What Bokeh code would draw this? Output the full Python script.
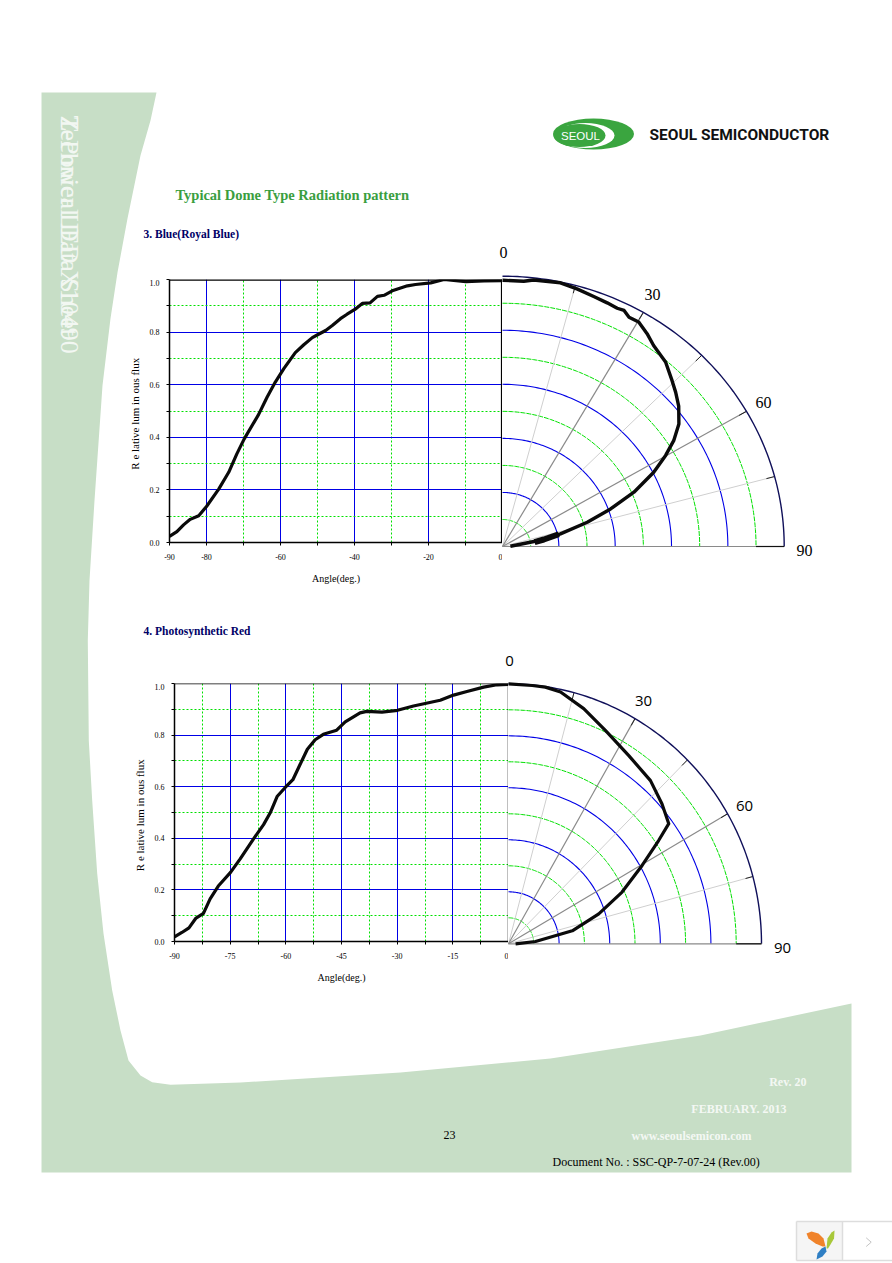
from math import radians, sin, cos
from bokeh.plotting import figure
from bokeh.embed import file_html
from bokeh.resources import INLINE
from bokeh.core.properties import value
from bokeh.models import Range1d, FixedTicker, Span, ColumnDataSource

SERIF = "Liberation Serif"
BLUE = "#0000e6"
GREEN = "#00e000"

# ---------- data ----------
blue_angle = [-90, -88.0, -86.2, -84.4, -82.1, -80, -76.7, -74, -71.8, -69.8, -65.9, -63.6, -61.4, -59.1,
              -56, -53.7, -51.4, -50.1, -47.8, -46, -43.8, -42, -39.9, -37.9, -35.8, -33.8, -32, -29.8,
              -25.7, -23.5, -19.4, -15.8, -9.9, -5, 0]
blue_flux = [.023, .041, .067, .088, .102, .137, .203, .267, .337, .394, .487, .553, .610, .661,
             .722, .752, .779, .789, .806, .825, .851, .868, .886, .909, .911, .936, .940, .957,
             .976, .981, .987, 1.0, .992, .995, .996]
blue_polar_theta = [0, 4.4, 6.4, 11.9, 15.5, 19.3, 22.4, 24.8, 26.3, 27.9, 30.2, 33.1, 35.8, 40.3, 44.4,
                    47.1, 50.3, 54.1, 57.2, 59.8, 62.9, 66.7, 70.1, 73.4, 77.2, 80, 88]
blue_polar_r = [.985, .984, .992, .997, .989, .98, .975, .971, .974, .96, .961, .94, .917, .895, .86,
                .839, .813, .773, .723, .67, .603, .508, .408, .314, .211, .149, .028]
blue_thick_theta = [77.2, 80, 82]
blue_thick_r = [.205, .149, .115]

red_angle = [-90, -88, -86.1, -84.2, -82.2, -80.4, -78.2, -74.9, -72.3, -68.7, -66, -64.2, -62.3, -60.1,
             -58.1, -56.2, -54.2, -52.1, -49.9, -46.3, -44, -40, -38.2, -34.1, -29.9, -25.6, -18.4,
             -14.8, -11.2, -6.7, -3.1, 0]
red_flux = [.018, .035, .053, .091, .109, .165, .215, .268, .320, .398, .453, .499, .563, .598,
            .627, .685, .745, .782, .803, .819, .851, .886, .892, .889, .896, .913, .935,
            .955, .969, .986, .995, .997]
red_polar_theta = [0, 5.4, 8.4, 12, 18.2, 25, 33.3, 41.8, 48.4, 53.9, 56.2, 60.3, 66.1, 72.1, 78.8, 85.2, 90]
red_polar_r = [1, .998, .998, .99, .952, .906, .866, .842, .811, .784, .714, .608, .491, .375, .257, .107, .028]

y_major = [0, .2, .4, .6, .8, 1.0]
y_minor = [.1, .3, .5, .7, .9]
blue_x_major = [-80, -60, -40, -20]
blue_x_minor = [-70, -50, -30, -10]
blue_x_labels = ["-90", "-80", "-60", "-40", "-20", "0"]
red_x_major = [-75, -60, -45, -30, -15]
red_x_minor = [-82.5, -67.5, -52.5, -37.5, -22.5, -7.5]
ring_major = [.2, .4, .6, .8]
ring_minor = [.1, .3, .5, .7, .9]
spoke_major = [30, 60]
spoke_minor = [15, 45, 75]
arc_angles = list(range(0, 91))


def placed(p, left, top):
    p.styles = {"position": "absolute", "left": f"{left}px", "top": f"{top}px"}
    return p


# ---------- page background in page pixels ----------
bg = figure(width=892, height=1263, x_range=Range1d(0, 892), y_range=Range1d(1263, 0),
            output_backend="svg", toolbar_location=None, min_border=0, outline_line_color=None)
bg.axis.visible = False
bg.grid.visible = False
bg.background_fill_color = "white"
bg.border_fill_color = "white"

band_x = [41, 156, 150, 140, 127, 117, 110, 102, 94, 89, 87.3, 88.3, 91.7, 96.7, 103, 111.7, 120, 128, 140,
          151.7, 170, 240, 400, 550, 700, 851, 851, 41]
band_y = [92, 92, 120, 155, 218, 272, 318, 385, 500, 580, 640, 740, 800, 873, 933, 990, 1030, 1060, 1075,
          1081.7, 1084.3, 1082, 1072, 1058, 1035, 1003, 1172, 1172]
bg.patch(band_x, band_y, color="#c7dec6", line_color=None)


def page_text(x, y, s, size, color="black", font=SERIF, style="normal", align="left", angle=0):
    bg.text([x], [y], text=[s], text_font=value(font), text_font_size=f"{size}px", text_color=color,
            text_font_style=style, text_align=align, text_baseline="middle", angle=angle,
            angle_units="deg")


# rotated, overlapping sidebar titles
page_text(69, 115, "Technical Data Sheet", 26, "#f2f7f2", angle=-90)
page_text(69, 115, "Z-Power LED X10490", 26, "#f2f7f2", angle=-90)

# logo
bg.ellipse([593], [133.5], width=81, height=31, color="#3aa53f", line_color=None)
bg.ellipse([585], [135], width=58, height=25, color="white", line_color=None)
bg.ellipse([579], [135], width=52, height=23, color="#3aa53f", line_color=None)
page_text(580, 135.5, "SEOUL", 11.5, "white", "Liberation Sans", align="center")
page_text(649, 134, "SEOUL SEMICONDUCTOR", 15.5, "#111111", "Roboto", "bold")

page_text(175, 194, "Typical Dome Type Radiation pattern", 14.5, "#3a9e3f", style="bold")
page_text(143, 233.5, "3. Blue(Royal Blue)", 11.5, "#000066", style="bold")
page_text(143, 630, "4. Photosynthetic Red", 11.5, "#000066", style="bold")

# polar labels
page_text(503, 252, "0", 16, align="center")
page_text(652, 294, "30", 16, align="center")
page_text(763, 402, "60", 16, align="center")
page_text(804, 550, "90", 16, align="center")
page_text(509, 660, "0", 15, font="Open Sans", align="center")
page_text(643, 700.5, "30", 15, font="Open Sans", align="center")
page_text(744, 805, "60", 15, font="Open Sans", align="center")
page_text(782, 947, "90", 15, font="Open Sans", align="center")

# footer
page_text(806, 1081, "Rev. 20", 12, "#f4f8f4", style="bold", align="right")
page_text(786, 1108, "FEBRUARY. 2013", 12, "#f4f8f4", style="bold", align="right")
page_text(443, 1134, "23", 12)
page_text(751, 1135.5, "www.seoulsemicon.com", 12, "#f4f8f4", style="bold", align="right")
page_text(552, 1161, "Document No. : SSC-QP-7-07-24 (Rev.00)", 12)

# corner widget
bg.rect([819], [1240.5], width=46, height=39, color="#f5f5f5", line_color=None)
bg.multi_line([[796, 892], [796, 892], [796, 796], [842, 842]],
              [[1221, 1221], [1260, 1260], [1221, 1260], [1221, 1260]],
              color="#dddddd", line_width=1.5)
bg.patch([806, 811, 818, 823, 825, 822, 815, 808], [1233, 1231, 1233, 1238, 1246, 1246, 1243, 1238],
         color="#f0832a", line_color=None)
bg.patch([826, 827, 831, 834, 833.5, 830, 827.5], [1248, 1238, 1232, 1230, 1238, 1244, 1248],
         color="#a8c83a", line_color=None)
bg.patch([816, 817, 821, 825, 826, 822, 818], [1259, 1253, 1248, 1246, 1251, 1256, 1258],
         color="#2f7fc4", line_color=None)
bg.line([865.7, 870.7, 865.7], [1237.3, 1241.7, 1246], color="#c4c4c4", line_width=1)


# ---------- cartesian panels ----------
def cartesian(frame_left, frame_top, frame_right, frame_bottom, x_major, x_minor, x_labels, ang, flux, top_w, right_w):
    border_l, border_b = 45, 48
    p = figure(frame_width=frame_right - frame_left, frame_height=frame_bottom - frame_top,
               x_range=Range1d(-90, 0), y_range=Range1d(0, 1),
               output_backend="svg", toolbar_location=None, min_border_left=border_l, min_border_bottom=border_b,
               min_border_top=0, min_border_right=0, outline_line_color=None)
    p.background_fill_color = None
    p.border_fill_color = None
    p.xaxis.ticker = FixedTicker(ticks=[-90] + x_major + [0], minor_ticks=x_minor)
    p.yaxis.ticker = FixedTicker(ticks=y_major, minor_ticks=y_minor)
    p.xaxis.major_label_overrides = dict(zip([-90] + x_major + [0], x_labels))
    p.yaxis.major_label_overrides = {t: f"{t:.1f}" for t in y_major}
    for ax in (p.xaxis[0], p.yaxis[0]):
        ax.axis_line_color = "black"
        ax.axis_line_width = 1.5
        ax.major_tick_line_color = "black"
        ax.minor_tick_line_color = "black"
        ax.major_tick_in = 0
        ax.minor_tick_in = 0
        ax.major_tick_out = 3
        ax.minor_tick_out = 3
        ax.major_label_text_font = SERIF
        ax.major_label_text_font_size = "8px"
        ax.major_label_text_color = "black"
        ax.axis_label_text_font = SERIF
        ax.axis_label_text_font_style = "normal"
        ax.axis_label_text_color = "black"
    p.xaxis.major_label_standoff = 8
    p.yaxis.major_label_standoff = 7
    p.xaxis.axis_label = "Angle(deg.)"
    p.xaxis.axis_label_text_font_size = "10px"
    p.xaxis.axis_label_standoff = 10
    p.yaxis.axis_label = "R e lative  lum in ous  flux"
    p.yaxis.axis_label_text_font_size = "11px"
    p.yaxis.axis_label_standoff = 6
    p.yaxis.major_label_orientation = "horizontal"

    p.xgrid.ticker = FixedTicker(ticks=x_major, minor_ticks=x_minor)
    p.ygrid.ticker = FixedTicker(ticks=y_major[1:-1], minor_ticks=y_minor)
    for g in (p.xgrid[0], p.ygrid[0]):
        g.grid_line_color = BLUE
        g.grid_line_width = 1
        g.minor_grid_line_color = GREEN
        g.minor_grid_line_width = 1
        g.minor_grid_line_dash = "2 2"
    p.add_layout(Span(location=1, dimension="width", line_color="black", line_width=top_w))
    p.add_layout(Span(location=0, dimension="height", line_color="black", line_width=right_w))
    p.line(ang, flux, color="#0a0a0a", line_width=3.2, line_join="round")
    return placed(p, frame_left - border_l, frame_top)


# ---------- polar panels (elliptical in the source) ----------
def polar(cx, cy, rx, ry, theta, r, lw):
    pad = 6
    left, right = round(cx) - pad, round(cx + rx) + pad
    top, bottom = round(cy - ry) - pad, round(cy) + pad
    p = figure(width=right - left, height=bottom - top,
               x_range=Range1d((left - cx) / rx, (right - cx) / rx),
               y_range=Range1d((cy - bottom) / ry, (cy - top) / ry),
               output_backend="svg", toolbar_location=None, min_border=0, outline_line_color=None)
    p.axis.visible = False
    p.grid.visible = False
    p.background_fill_color = None
    p.border_fill_color = None

    def arc(radius):
        return ([radius * sin(radians(a)) for a in arc_angles], [radius * cos(radians(a)) for a in arc_angles])

    for rr in ring_minor:
        xs, ys = arc(rr)
        p.line(xs, ys, color=GREEN, line_width=1, line_dash="5 1")
    for rr in ring_major:
        xs, ys = arc(rr)
        p.line(xs, ys, color=BLUE, line_width=1.1)
    for a in spoke_minor:
        p.line([0, sin(radians(a))], [0, cos(radians(a))], color="#cfcfcf", line_width=1)
        p.line([.97 * sin(radians(a)), sin(radians(a))], [.97 * cos(radians(a)), cos(radians(a))], color="#222222", line_width=1)
    for a in spoke_major:
        p.line([0, sin(radians(a))], [0, cos(radians(a))], color="#8a8a8a", line_width=1.2)
        p.line([.97 * sin(radians(a)), sin(radians(a))], [.97 * cos(radians(a)), cos(radians(a))], color="#222222", line_width=1)
    xs, ys = arc(1)
    p.line(xs, ys, color="#10105a", line_width=1.4)
    p.line([0, 1], [0, 0], color="#8a8a8a", line_width=1.2)
    p.line([.9, 1], [0, 0], color="#111111", line_width=1.2)
    p.line([r_ * sin(radians(t)) for t, r_ in zip(theta, r)],
           [r_ * cos(radians(t)) for t, r_ in zip(theta, r)],
           color="#0a0a0a", line_width=lw, line_join="round")
    return placed(p, left, top), p


blue_left = cartesian(169, 279, 502, 542, blue_x_major, blue_x_minor, blue_x_labels, blue_angle, blue_flux, 2.5, 3.2)
red_left = cartesian(174, 683, 508, 941, red_x_major, red_x_minor,
                     ["-90", "-75", "-60", "-45", "-30", "-15", "0"], red_angle, red_flux, 1.5, 1.5)
blue_polar, bp = polar(502, 546, 281.7, 270.3, blue_polar_theta, blue_polar_r, 3.4)
bp.line([r_ * sin(radians(t)) for t, r_ in zip(blue_thick_theta, blue_thick_r)],
        [r_ * cos(radians(t)) for t, r_ in zip(blue_thick_theta, blue_thick_r)], color="#0a0a0a", line_width=6)
red_polar, _ = polar(508, 943.3, 253, 260, red_polar_theta, red_polar_r, 3.2)

roots = [placed(bg, 0, 0), blue_left, red_left, blue_polar, red_polar]
open("out.html", "w").write(file_html(roots, INLINE))
